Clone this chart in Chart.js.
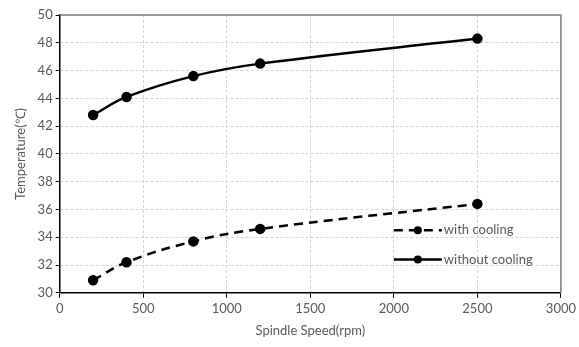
<!DOCTYPE html>
<html>
<head>
<meta charset="utf-8">
<script src="https://cdn.jsdelivr.net/npm/chart.js"></script>
<style>
  html, body { margin: 0; padding: 0; background: #fff; }
  #wrap { width: 579px; height: 347px; }
</style>
</head>
<body>
<div id="wrap"><canvas id="tempCanvas"></canvas></div>
<script>
// Data
const speeds = [200, 400, 800, 1200, 2500];
const withCooling = [30.9, 32.2, 33.7, 34.6, 36.4];
const withoutCooling = [42.8, 44.1, 45.6, 46.5, 48.3];
const seriesNames = ['with cooling', 'without cooling'];

const toPoints = (ys) => speeds.map((x, i) => ({ x: x, y: ys[i] }));

// Legend drawn inside the plot (lower right), like the original
const innerLegend = {
    id: 'innerLegend',
    afterDatasetsDraw(chart) {
        const ctx = chart.ctx;
        const xs = chart.scales.x;
        const ys = chart.scales.y;
        const rows = [{ ds: 0, y: ys.getPixelForValue(34.5) }, { ds: 1, y: ys.getPixelForValue(32.4) }];
        const x0 = xs.getPixelForValue(2000);
        const x1 = x0 + 48;
        ctx.save();
        rows.forEach(r => {
            const ds = chart.data.datasets[r.ds];
            ctx.strokeStyle = '#000';
            ctx.lineWidth = 2.5;
            ctx.setLineDash(ds.borderDash || []);
            ctx.beginPath();
            ctx.moveTo(x0, r.y);
            ctx.lineTo(x1, r.y);
            ctx.stroke();
            ctx.setLineDash([]);
            ctx.fillStyle = '#000';
            ctx.beginPath();
            ctx.arc((x0 + x1) / 2, r.y, 4, 0, Math.PI * 2);
            ctx.fill();
            ctx.fillStyle = '#595959';
            ctx.font = '13px Lato';
            ctx.textBaseline = 'middle';
            ctx.fillText(ds.label, x1 + 2, r.y);
        });
        ctx.restore();
    }
};

new Chart(document.getElementById('tempCanvas').getContext('2d'), {
    type: 'scatter',
    data: {
        datasets: [{
            label: seriesNames[0],
            data: toPoints(withCooling),
            showLine: true,
            borderColor: '#000',
            backgroundColor: '#000',
            borderWidth: 2.5,
            borderDash: [9, 6],
            tension: 0.4,
            pointRadius: 4,
            pointHoverRadius: 4
        }, {
            label: seriesNames[1],
            data: toPoints(withoutCooling),
            showLine: true,
            borderColor: '#000',
            backgroundColor: '#000',
            borderWidth: 2.5,
            tension: 0.4,
            pointRadius: 4,
            pointHoverRadius: 4
        }]
    },
    options: {
        responsive: true,
        maintainAspectRatio: false,
        animation: false,
        layout: { padding: { top: 15, right: 2, left: 9, bottom: 4 } },
        plugins: {
            legend: { display: false },
            tooltip: { enabled: false }
        },
        scales: {
            x: {
                type: 'linear',
                min: 0,
                max: 3000,
                ticks: { stepSize: 500, color: '#595959', font: { family: 'Lato', size: 13 }, callback: v => String(v) },
                grid: { color: '#d4d4d4', tickColor: '#000', tickLength: 5 },
                border: { color: '#000', width: 1.5, dash: [3, 2] },
                title: { display: true, text: 'Spindle Speed(rpm)', color: '#595959', font: { family: 'Lato', size: 13 }, padding: { top: 4 } }
            },
            y: {
                min: 30,
                max: 50,
                ticks: { stepSize: 2, color: '#595959', font: { family: 'Lato', size: 13 }, callback: v => String(v) },
                grid: { color: '#d4d4d4', tickColor: '#000', tickLength: 4 },
                border: { color: '#000', width: 1.5, dash: [3, 2] },
                title: { display: true, text: 'Temperature(\u2103)', color: '#595959', font: { family: 'Lato', size: 13 }, padding: { bottom: 6 } }
            }
        }
    },
    plugins: [innerLegend, {
        id: 'frame',
        afterDraw(chart) {
            const a = chart.chartArea;
            const ctx = chart.ctx;
            ctx.save();
            ctx.strokeStyle = '#7f7f7f';
            ctx.lineWidth = 1.5;
            ctx.beginPath();
            ctx.moveTo(a.left, a.top);
            ctx.lineTo(a.right, a.top);
            ctx.lineTo(a.right, a.bottom);
            ctx.stroke();
            ctx.restore();
        }
    }]
});
</script>
</body>
</html>
